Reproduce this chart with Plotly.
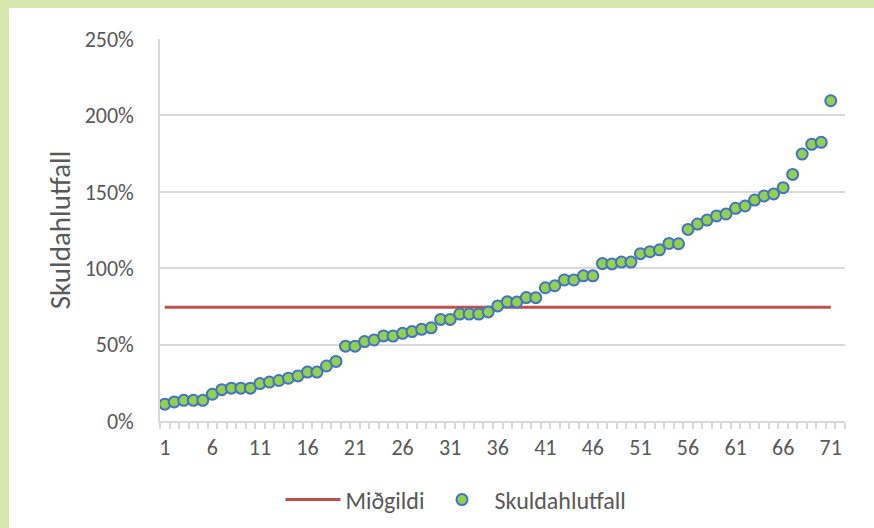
import plotly.graph_objects as go

# Data
positions = list(range(1, 72))
skuldahlutfall = [
    11.0, 12.5, 13.5, 13.5, 13.5, 17.5, 20.5, 21.5, 21.5, 21.5,
    24.5, 25.5, 26.5, 28.0, 29.5, 32.0, 32.0, 36.0, 39.0, 49.0,
    49.0, 52.0, 53.0, 55.7, 55.6, 57.4, 58.5, 60.0, 61.0, 66.5,
    66.5, 70.0, 70.0, 70.0, 71.4, 75.3, 78.0, 77.8, 80.8, 80.7,
    87.2, 88.5, 92.3, 92.3, 95.0, 95.0, 103.0, 102.8, 104.0, 104.0,
    109.5, 110.8, 112.0, 116.2, 116.0, 125.4, 128.9, 131.5, 134.2, 135.5,
    139.2, 140.7, 144.6, 147.3, 148.6, 152.7, 161.4, 174.7, 181.1, 182.4,
    209.6,
]
midgildi_value = 74.4
tick_positions = list(range(1, 72, 5))
tick_labels = [str(t) for t in tick_positions]
y_ticks = [0, 0.5, 1.0, 1.5, 2.0, 2.5]

values = [v / 100 for v in skuldahlutfall]
median_line = [midgildi_value / 100] * len(positions)

FONT = "Carlito, Lato, 'Liberation Sans', sans-serif"
TXT = "#595959"
GRID = "#d9d9d9"

fig = go.Figure()
fig.add_trace(go.Scatter(
    x=positions, y=median_line, mode="lines", name="Miðgildi",
    line=dict(color="#c0504d", width=3),
))
fig.add_trace(go.Scatter(
    x=positions, y=values, mode="markers", name="Skuldahlutfall",
    marker=dict(size=11, color="#92d050", line=dict(color="#4472c4", width=2)),
))

# light green frame (top and left) around a white panel
fig.add_shape(type="rect", xref="paper", yref="paper",
              x0=-0.2204, x1=1.3, y0=-0.6, y1=1.0812,
              fillcolor="white", line=dict(width=0), layer="below")

fig.update_layout(
    width=874, height=528,
    margin=dict(l=160, r=29, t=39, b=107, autoexpand=False),
    paper_bgcolor="#d7e8ae",
    plot_bgcolor="white",
    font=dict(family=FONT, color=TXT, size=22),
    showlegend=True,
    legend=dict(orientation="h", x=0.432, xanchor="center",
                yref="container", y=0.053, yanchor="middle",
                font=dict(size=24, color=TXT), bgcolor="rgba(0,0,0,0)",
                itemwidth=55, traceorder="normal"),
    xaxis=dict(
        range=[0.5, 72.5], showgrid=False, zeroline=False, automargin=False,
        showline=True, linecolor=GRID, linewidth=1.5,
        tickmode="array", tickvals=tick_positions, ticktext=tick_labels,
        ticks="", ticklabelstandoff=6,
        tickfont=dict(size=22, color=TXT),
        minor=dict(ticks="outside", tick0=0.5, dtick=1, ticklen=6,
                   tickcolor=GRID, tickwidth=1.5, showgrid=False),
    ),
    yaxis=dict(
        range=[0, 2.5], tickvals=y_ticks, tickformat=".0%", automargin=False,
        showgrid=True, gridcolor=GRID, gridwidth=1.5, zeroline=False,
        showline=True, linecolor=GRID, linewidth=1.5,
        ticks="", ticklabelstandoff=20,
        tickfont=dict(size=22, color=TXT),
        title=dict(text="Skuldahlutfall", font=dict(size=29, color=TXT), standoff=6),
    ),
)

fig.write_html("out.html", config={"displayModeBar": False},
               post_script="document.body.style.margin='0';")
